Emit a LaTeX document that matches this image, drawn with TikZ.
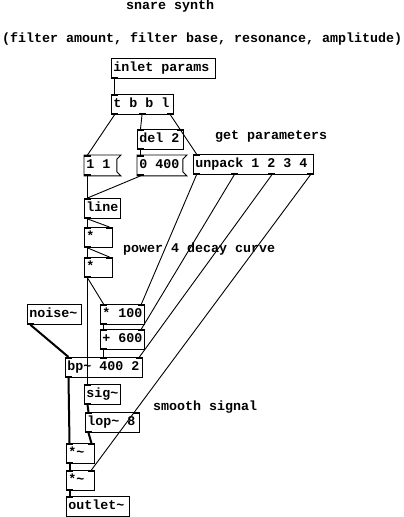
\documentclass[tikz,border=0pt]{standalone}
\usepackage{fontspec}
\newfontfamily\pdmono{Liberation Mono}
\newcommand{\pdtext}{\pdmono\bfseries\fontsize{13.33}{16}\selectfont}
\newcommand{\nubtop}[2]{\fill ([xshift=#2pt]#1.north west) rectangle ++(7,2);}
\newcommand{\nubtopR}[1]{\fill (#1.north east) rectangle ++(-7,2);}
\newcommand{\nubbot}[2]{\fill ([xshift=#2pt]#1.south west) rectangle ++(7,-2);}
\newcommand{\nubbotR}[1]{\fill (#1.south east) rectangle ++(-7,-2);}
\begin{document}
\begin{tikzpicture}[x=1pt,y=-1pt,
  box/.style={draw, line width=0.9pt, anchor=north west, inner xsep=2pt, inner ysep=0pt,
    minimum height=20pt, text height=9.5pt, text depth=2.5pt, align=flush left, font=\pdtext},
  msg/.style={box, draw=none},
  cmt/.style={anchor=west, inner sep=0pt, font=\pdtext, text height=9.5pt, text depth=2.5pt},
  ctl/.style={line width=0.9pt},
  sgl/.style={line width=2pt},
  flag/.style={line width=0.9pt}]
\useasboundingbox (0,0) rectangle (404,517);

% comments
\node[cmt] (title) at (126,6) {snare synth};
\node[cmt] (sub) at (2,39) {(filter amount, filter base, resonance, amplitude)};
\node[cmt] (getp) at (215,136) {get parameters};
\node[cmt] (pow) at (123,249) {power 4 decay curve};
\node[cmt] (smooth) at (153,407) {smooth signal};

% objects
\node[box, text width=100pt] (inlet) at (111,58) {inlet params};
\node[box, text width=58pt] (tbbl) at (111,94) {t b b l};
\node[box, text width=42pt] (del) at (137,129) {del 2};
\node[msg, text width=28pt] (m11) at (84,155) {1 1};
\node[msg, text width=41pt] (m0) at (137,155) {0 400};
\node[box, text width=116pt] (unp) at (193,154) {unpack 1 2 3 4};
\node[box, text width=32pt] (line) at (84,198) {line};
\node[box, text width=24pt] (mulA) at (84,227) {*};
\node[box, text width=24pt] (mulB) at (84,257) {*};
\node[box, text width=50pt] (noise) at (27,304) {noise\textasciitilde};
\node[box, text width=40pt] (m100) at (100,304) {* 100};
\node[box, text width=40pt] (p600) at (100,329) {+ 600};
\node[box, text width=73pt] (bp) at (65,357) {bp\textasciitilde{} 400 2};
\node[box, text width=32pt] (sig) at (84,384) {sig\textasciitilde};
\node[box, text width=50pt] (lop) at (85,412) {lop\textasciitilde{} 8};
\node[box, text width=24pt] (smA) at (66,443) {*\textasciitilde};
\node[box, text width=24pt] (smB) at (66,470) {*\textasciitilde};
\node[box, text width=59pt] (out) at (66,496) {outlet\textasciitilde};

% message box flags
\foreach \m in {m11,m0}{
  \draw[flag] (\m.north west) -- ([xshift=4pt]\m.north east) -- ([yshift=-4pt]\m.north east)
    -- ([yshift=4pt]\m.south east) -- ([xshift=4pt]\m.south east) -- (\m.south west) -- cycle;
}

% control connections
\draw[ctl] ([xshift=3.5pt]inlet.south west) -- ([xshift=3.5pt]tbbl.north west);
\draw[ctl] ([xshift=3.5pt]tbbl.south west) -- ([xshift=3.5pt]m11.north west);
\draw[ctl] ([xshift=31pt]tbbl.south west) -- ([xshift=3.5pt]del.north west);
\draw[ctl] ([xshift=-3.5pt]tbbl.south east) -- ([xshift=3.5pt]unp.north west);
\draw[ctl] ([xshift=3.5pt]del.south west) -- ([xshift=3.5pt]m0.north west);
\draw[ctl] ([xshift=3.5pt]m11.south west) -- ([xshift=3.5pt]line.north west);
\draw[ctl] ([xshift=3.5pt]m0.south west) -- ([xshift=3.5pt]line.north west);
\draw[ctl] ([xshift=3.5pt]line.south west) -- ([xshift=3.5pt]mulA.north west);
\draw[ctl] ([xshift=3.5pt]line.south west) -- ([xshift=-3.5pt]mulA.north east);
\draw[ctl] ([xshift=3.5pt]mulA.south west) -- ([xshift=3.5pt]mulB.north west);
\draw[ctl] ([xshift=3.5pt]mulA.south west) -- ([xshift=-3.5pt]mulB.north east);
\draw[ctl] ([xshift=3.5pt]mulB.south west) -- ([xshift=3.5pt]sig.north west);
\draw[ctl] ([xshift=3.5pt]mulB.south west) -- ([xshift=3.5pt]m100.north west);
\draw[ctl] ([xshift=3.5pt]unp.south west) -- ([xshift=-3.5pt]m100.north east);
\draw[ctl] ([xshift=41.2pt]unp.south west) -- ([xshift=-3.5pt]p600.north east);
\draw[ctl] ([xshift=78.8pt]unp.south west) -- ([xshift=-3.5pt]bp.north east);
\draw[ctl] ([xshift=-3.5pt]unp.south east) -- ([xshift=-3.5pt]smB.north east);
\draw[ctl] ([xshift=3.5pt]m100.south west) -- ([xshift=3.5pt]p600.north west);
\draw[ctl] ([xshift=3.5pt]p600.south west) -- ([xshift=38.5pt]bp.north west);

% signal connections
\draw[sgl] ([xshift=3.5pt]noise.south west) -- ([xshift=3.5pt]bp.north west);
\draw[sgl] ([xshift=3.5pt]bp.south west) -- ([xshift=3.5pt]smA.north west);
\draw[sgl] ([xshift=3.5pt]sig.south west) -- ([xshift=3.5pt]lop.north west);
\draw[sgl] ([xshift=3.5pt]lop.south west) -- ([xshift=-3.5pt]smA.north east);
\draw[sgl] ([xshift=3.5pt]smA.south west) -- ([xshift=3.5pt]smB.north west);
\draw[sgl] ([xshift=3.5pt]smB.south west) -- ([xshift=3.5pt]out.north west);

% inlets / outlets
\nubbot{inlet}{0}
\nubtop{tbbl}{0} \nubbot{tbbl}{0} \nubbot{tbbl}{27.5} \nubbotR{tbbl}
\nubtop{del}{0} \nubtopR{del} \nubbot{del}{0}
\nubtop{m11}{0} \nubbot{m11}{0}
\nubtop{m0}{0} \nubbot{m0}{0}
\nubtop{unp}{0} \nubbot{unp}{0} \nubbot{unp}{37.7} \nubbot{unp}{75.3} \nubbotR{unp}
\nubtop{line}{0} \nubbot{line}{0}
\nubtop{mulA}{0} \nubtopR{mulA} \nubbot{mulA}{0}
\nubtop{mulB}{0} \nubtopR{mulB} \nubbot{mulB}{0}
\nubbot{noise}{0}
\nubtop{m100}{0} \nubtopR{m100} \nubbot{m100}{0}
\nubtop{p600}{0} \nubtopR{p600} \nubbot{p600}{0}
\nubtop{bp}{0} \nubtop{bp}{35} \nubtopR{bp} \nubbot{bp}{0}
\nubtop{sig}{0} \nubbot{sig}{0}
\nubtop{lop}{0} \nubtopR{lop} \nubbot{lop}{0}
\nubtop{smA}{0} \nubtopR{smA} \nubbot{smA}{0}
\nubtop{smB}{0} \nubtopR{smB} \nubbot{smB}{0}
\nubtop{out}{0}
\end{tikzpicture}
\end{document}
